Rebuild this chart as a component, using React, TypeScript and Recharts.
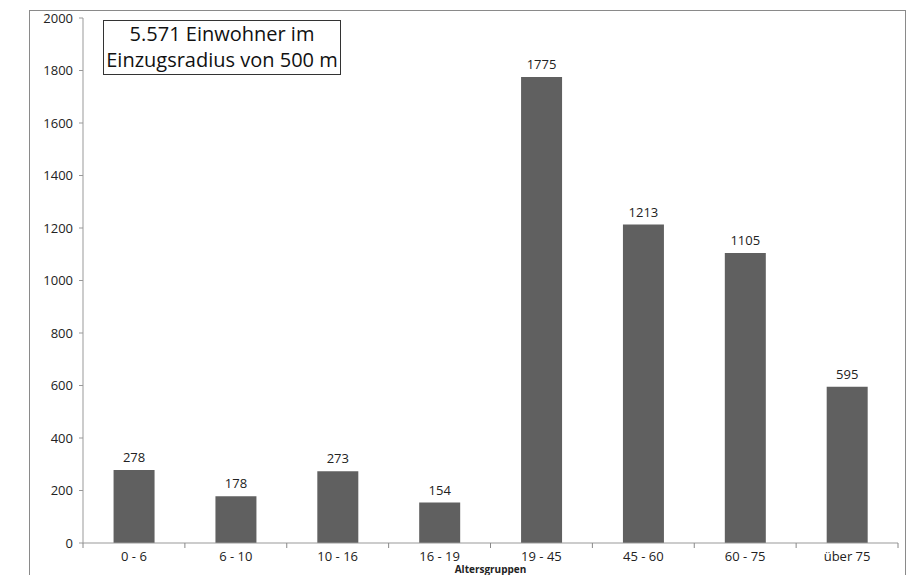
import { BarChart, Bar, XAxis, YAxis, LabelList } from 'recharts'

const GRUPPEN = ['0 - 6', '6 - 10', '10 - 16', '16 - 19', '19 - 45', '45 - 60', '60 - 75', 'über 75']
const EINWOHNER = [278, 178, 273, 154, 1775, 1213, 1105, 595]
const Y_TICKS = [0, 200, 400, 600, 800, 1000, 1200, 1400, 1600, 1800, 2000]

const data = GRUPPEN.map((g, i) => ({ gruppe: g, wert: EINWOHNER[i] }))

const FONT = '"Open Sans", "DejaVu Sans", sans-serif'
const axisGray = '#999'

// Beschriftung + Strich an der linken Kategoriegrenze (letzte auch rechts)
function GruppenTick(props: any) {
  const { x, y, payload, index } = props
  const half = payload?.offset ?? 51
  return (
    <g>
      <line x1={x - half} x2={x - half} y1={y} y2={y + 5} stroke="#888" />
      {index === GRUPPEN.length - 1 && <line x1={x + half} x2={x + half} y1={y} y2={y + 5} stroke="#888" />}
      <text x={x} y={y + 9} dy="0.71em" textAnchor="middle" fill="#222" fontSize={13} fontFamily={FONT}>
        {payload.value}
      </text>
    </g>
  )
}

export default function App() {
  return (
    <div style={{ position: 'absolute', left: 0, top: 0, width: 915, height: 575, background: '#fff', overflow: 'hidden', fontFamily: FONT }}>
      <div style={{ position: 'absolute', left: 29, top: 10, width: 875, height: 600, border: '1px solid #8a8a8a' }} />
      <div style={{ position: 'absolute', left: 0, top: 0 }}>
        <BarChart width={915} height={575} data={data} margin={{ top: 18, right: 17, left: 33, bottom: 0 }} barCategoryGap="30%">
          <XAxis dataKey="gruppe" height={32} axisLine={{ stroke: axisGray }} tickLine={false} tickSize={0} tickMargin={0}
            tick={<GruppenTick />} interval={0}
            label={{ value: 'Altersgruppen', position: 'insideBottom', offset: 2, fill: '#222', fontSize: 10, fontWeight: 700, fontFamily: FONT }} />
          <YAxis domain={[0, 2000]} ticks={Y_TICKS} width={50} axisLine={{ stroke: axisGray }} tickLine={{ stroke: axisGray }}
            tickSize={4} tickMargin={6} tick={{ fill: '#222', fontSize: 13, fontFamily: FONT }} />
          <Bar dataKey="wert" fill="#606060" isAnimationActive={false}>
            <LabelList dataKey="wert" position="top" offset={8} fill="#222" fontSize={13} fontFamily={FONT} />
          </Bar>
        </BarChart>
      </div>
      <div style={{ position: 'absolute', left: 103, top: 20, width: 236, height: 53, border: '1px solid #333', fontSize: 20, lineHeight: '26px', textAlign: 'center', color: '#111', background: '#fff' }}>
        5.571 Einwohner im<br />Einzugsradius von 500 m
      </div>
    </div>
  )
}
